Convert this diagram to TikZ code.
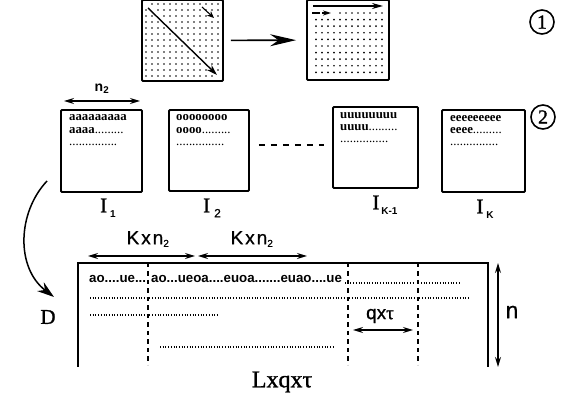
\documentclass[tikz,border=0pt]{standalone}
\usepackage{fontspec}
\setmainfont{Liberation Serif}
\setsansfont{Liberation Sans}
\newfontfamily\heavyserif[FakeBold=1.2]{Liberation Serif}
\newfontfamily\heavysans[FakeBold=0.8]{Liberation Sans}
\usetikzlibrary{arrows.meta}
\tikzset{
  matbox/.style={draw, line width=1.8pt, rounded corners=1pt, inner sep=0pt},
  boxtext/.style={anchor=base west, inner sep=0pt, text height=6pt, text depth=0pt, font=\fontsize{12.8}{12.8}\selectfont\bfseries},
  rowtext/.style={anchor=base west, inner sep=0pt, font=\fontsize{13.3}{14}\sffamily\bfseries},
  dotrow/.style={line width=1.1pt, dash pattern=on 1pt off 1.7pt},
  vdash/.style={line width=1.3pt, dash pattern=on 4.5pt off 4pt},
  dimarrow/.style={line width=1.3pt, {Stealth[length=10pt,width=6pt]}-{Stealth[length=10pt,width=6pt]}},
  bigarrow/.style={line width=1.6pt, -{Stealth[length=26pt,width=12pt]}},
  lbl/.style={inner sep=0pt, font=\fontsize{21}{21}\heavyserif},
  slbl/.style={inner sep=0pt, font=\fontsize{19}{19}\heavysans},
  circnum/.style={circle, draw, line width=1.6pt, minimum size=24pt, inner sep=0pt, font=\fontsize{20}{20}\heavyserif},
  dot/.style={fill=black}
}
\begin{document}
\begin{tikzpicture}[x=1pt,y=-1pt]
\useasboundingbox (0,0) rectangle (566,403);

% ---------- step 1 ----------
\node[matbox, minimum width=81pt, minimum height=81pt] (m1) at (182.5,40.5) {};
\foreach \i in {0,...,12}{
  \foreach \j in {0,...,12}{
    \ifnum\i=\j\else
      \fill[dot] (146+6*\i,4+6*\j) circle (0.95pt);
    \fi
  }
}
\draw[line width=1.4pt, -{Stealth[length=11pt,width=7pt]}] (148,8) -- (217,75);
\draw[line width=1.1pt, -{Stealth[length=7pt,width=6pt,open]}] (202,7) -- (214,18);

\node[matbox, minimum width=82pt, minimum height=80pt] (m2) at (348,40) {};
\foreach \j in {1,...,9}{
  \foreach \i in {0,...,11}{
    \fill[dot] (316+6*\i,13+6.6*\j) circle (0.95pt);
  }
}
\foreach \i in {4,...,11}{
  \fill[dot] (316+6*\i,13) circle (0.95pt);
}
\draw[line width=1.4pt, -{Stealth[length=11pt,width=6pt]}] (313,6) -- (383,6);
\draw[line width=1.3pt, dash pattern=on 8pt off 2pt, -{Stealth[length=8pt,width=5pt]}] (312,13) -- (331,13);

\draw[bigarrow, shorten <=7pt, shorten >=10pt] (m1) -- (m2);
\node[circnum] (c1) at (542,22) {1};

% ---------- step 2 ----------
\node[matbox, minimum width=81pt, minimum height=82pt] (I1) at (101.5,151) {};
\node[matbox, minimum width=80pt, minimum height=81pt] (I2) at (209,150.5) {};
\node[matbox, minimum width=85pt, minimum height=81pt] (IK1) at (375.5,147.5) {};
\node[matbox, minimum width=83pt, minimum height=82pt] (IK) at (483.5,151) {};
\node[circnum] (c2) at (543,117) {2};

\draw[line width=1.4pt, dash pattern=on 6pt off 6pt] ([shift={(9,-5.5)}]I2.east) -- ([shift={(-8,-2.5)}]IK1.west);

\coordinate (n2a) at (64,101);
\coordinate (n2b) at (140,101);
\draw[dimarrow] (n2a) -- (n2b);
\node[inner sep=0pt, font=\fontsize{14}{14}\sffamily\bfseries] (n2lbl) at (102,89) {n\textsubscript{2}};

\node[boxtext] (t11) at (69,121) {aaaaaaaaa};
\node[boxtext] (t12) at (69,134) {aaaa\mdseries.........};
\node[boxtext] (t13) at (69,146) {\mdseries...............};
\node[boxtext] (t21) at (176,121) {oooooooo};
\node[boxtext] (t22) at (176,134) {oooo\mdseries.........};
\node[boxtext] (t23) at (176,146) {\mdseries...............};
\node[boxtext] (t31) at (340,119) {uuuuuuuu};
\node[boxtext] (t32) at (340,131) {uuuu\mdseries.........};
\node[boxtext] (t33) at (340,143) {\mdseries...............};
\node[boxtext] (t41) at (450,122) {eeeeeeeee};
\node[boxtext] (t42) at (450,134) {eeee\mdseries.........};
\node[boxtext] (t43) at (450,146) {\mdseries...............};

\node[lbl] (l1) at (108,208) {I\kern3pt\raisebox{-5pt}{\fontsize{10}{10}\sffamily\bfseries 1}};
\node[lbl] (l2) at (212,208) {I\kern4pt\raisebox{-5pt}{\fontsize{12}{12}\heavysans 2}};
\node[lbl] (l3) at (385,205) {I\kern2pt\raisebox{-5pt}{\fontsize{10}{10}\sffamily\bfseries K-1}};
\node[lbl] (l4) at (485,209) {I\kern3pt\raisebox{-5pt}{\fontsize{10}{10}\sffamily\bfseries K}};

% ---------- matrix D ----------
\coordinate (dtl) at (78,263);
\coordinate (dtr) at (488,263);
\coordinate (dbl) at (78,367);
\coordinate (dbr) at (488,367);
\draw[line width=1.6pt] (dbl) -- (dtl) -- (dtr) -- (dbr);

\coordinate (v1t) at (148,263); \coordinate (v1b) at (148,365);
\coordinate (v2t) at (348,263); \coordinate (v2b) at (348,365);
\coordinate (v3t) at (418,263); \coordinate (v3b) at (418,365);
\draw[vdash] (v1t) -- (v1b);
\draw[vdash] (v2t) -- (v2b);
\draw[vdash] (v3t) -- (v3b);

\coordinate (k1a) at (88,256); \coordinate (k1b) at (195,256);
\coordinate (k2a) at (198,256); \coordinate (k2b) at (307,256);
\draw[dimarrow] (k1a) -- (k1b);
\draw[dimarrow] (k2a) -- (k2b);
\node[slbl] (kl1) at (148,239) {K\kern2pt x\kern2pt n\textsubscript{\fontsize{10}{10}\selectfont 2}};
\node[slbl] (kl2) at (252,239) {K\kern2pt x\kern2pt n\textsubscript{\fontsize{10}{10}\selectfont 2}};

\node[rowtext] (r1a) at (89,283) {ao....ue...};
\node[rowtext] (r1b) at (151,283) {ao...ueoa....euoa.......euao....ue};
\draw[dotrow] (r1b.base east) ++(3,0) coordinate (r1c) -- (415,283) coordinate (r1d);
\draw[dotrow] (421,283) coordinate (r1e) -- (460,283) coordinate (r1f);
\draw[dotrow] (90,298) coordinate (r2a) -- (470,298) coordinate (r2b);
\draw[dotrow] (90,315) coordinate (r3a) -- (217,315) coordinate (r3b);
\draw[dotrow] (160,347) coordinate (r4a) -- (333,347) coordinate (r4b);

\coordinate (qa) at (353,330); \coordinate (qb) at (413,330);
\draw[dimarrow] (qa) -- (qb);
\node[inner sep=0pt, font=\fontsize{19}{19}\heavysans] (ql) at (380,316) {qx\heavyserif τ};

\coordinate (na) at (498,263); \coordinate (nb) at (498,367);
\draw[dimarrow] (na) -- (nb);
\node[inner sep=0pt, font=\fontsize{23}{23}\heavysans] (nl) at (512,312) {n};

\node[lbl] (dl) at (48,317) {D};
\node[inner sep=0pt, font=\fontsize{24}{24}\heavyserif] (ll) at (282,382) {Lxqxτ};

\coordinate (cs) at (47,181);
\coordinate (ce) at (54,297);
\draw[line width=1.5pt, -{Stealth[length=17pt,width=11pt]}] (cs) .. controls (17,213) and (16,268) .. (ce);
\end{tikzpicture}
\end{document}
